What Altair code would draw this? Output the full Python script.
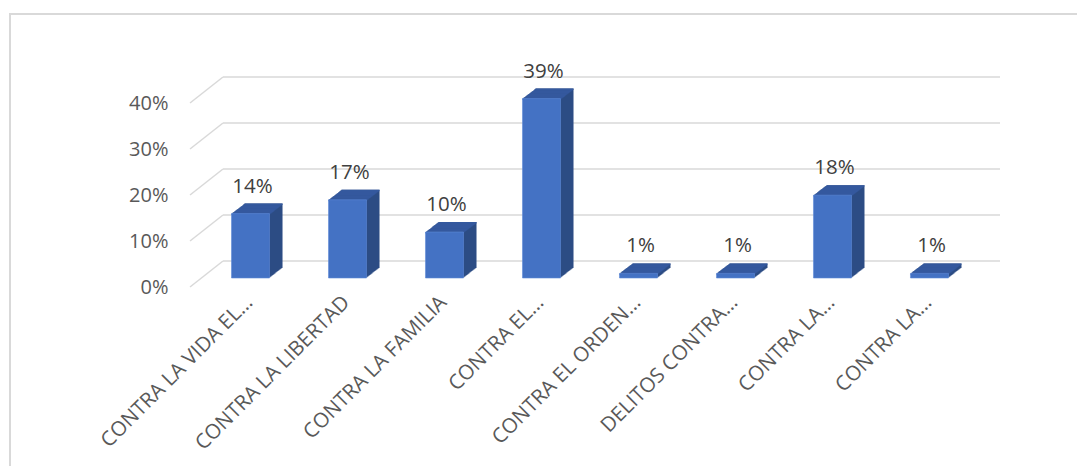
import json
import altair as alt
import pandas as pd

# ---- data ----
labels = ["CONTRA LA VIDA EL…", "CONTRA LA LIBERTAD", "CONTRA LA FAMILIA", "CONTRA EL…",
          "CONTRA EL ORDEN…", "DELITOS CONTRA…", "CONTRA LA…", "CONTRA LA…"]
values = [0.14, 0.17, 0.10, 0.39, 0.01, 0.01, 0.18, 0.01]
ticks = [0.0, 0.1, 0.2, 0.3, 0.4]

df = pd.DataFrame({"idx": list(range(len(labels))), "label": labels, "v": values})
tick_df = pd.DataFrame({"t": ticks})

FRONT = "#4472C4"
SIDE = "#2C4C84"
TOP = "#34599E"
GRID = "#D9D9D9"
FONT = "Open Sans"

W, H = 820, 184
DEPTH_X, DEPTH_Y = 13, 10

yscale = alt.Scale(domain=[0, 0.4], nice=False, zero=True)
yaxis = alt.Axis(values=ticks, format=".0%", title=None, grid=False, domain=False, ticks=False,
                 labelFont=FONT, labelFontSize=20, labelColor="#595959",
                 labelPadding=12, labelOffset=9)

label_expr = json.dumps(labels, ensure_ascii=False) + "[datum.value]"
xenc = alt.X("idx:O",
             scale=alt.Scale(paddingInner=0.608, paddingOuter=0.531),
             axis=alt.Axis(title=None, domain=False, ticks=False, labelAngle=-45,
                           labelAlign="right", labelBaseline="middle",
                           labelPadding=21, labelOffset=-1, labelLimit=400,
                           labelFont=FONT, labelFontSize=20.5, labelColor="#595959",
                           labelExpr=label_expr))


def yenc(field):
    return alt.Y(field, type="quantitative", scale=yscale, axis=yaxis)


layers = []

# outer frame
layers.append(alt.Chart(tick_df).mark_rect(fillOpacity=0, stroke=GRID, strokeWidth=1.5).encode(
    x=alt.value(-170), x2=alt.value(W + 200), y=alt.value(-80), y2=alt.value(H + 300)))

# back-wall gridlines
layers.append(alt.Chart(tick_df).mark_rule(color=GRID, strokeWidth=1.5, yOffset=-17).encode(
    y=yenc("t"), x=alt.value(43), x2=alt.value(W)))

# side-wall diagonal gridlines
layers.append(alt.Chart(tick_df).mark_rule(color=GRID, strokeWidth=1.5, yOffset=9, y2Offset=-17).encode(
    y=yenc("t"), y2=alt.Y2("t"), x=alt.value(10), x2=alt.value(43)))

# side faces (sweep of the bar along the depth direction)
for k in range(1, DEPTH_X + 1):
    off = -k * DEPTH_Y / DEPTH_X
    layers.append(alt.Chart(df).mark_bar(color=SIDE, xOffset=k, yOffset=off, y2Offset=off).encode(
        x=xenc, y=yenc("v")))

# top faces (sweep of the top edge)
for k in range(0, DEPTH_X + 1):
    off = -k * DEPTH_Y / DEPTH_X
    layers.append(alt.Chart(df).transform_calculate(vt="datum.v - 0.003").mark_bar(
        color=TOP, xOffset=k, yOffset=off, y2Offset=off).encode(
        x=xenc, y=yenc("v"), y2=alt.Y2("vt:Q")))

# front faces
layers.append(alt.Chart(df).mark_bar(color=FRONT, stroke="#5E8AD6", strokeWidth=0.6).encode(
    x=xenc, y=yenc("v")))

# value labels
layers.append(alt.Chart(df).mark_text(baseline="bottom", dy=-17, dx=2, font=FONT, fontSize=20.5,
                                      color="#404040").encode(
    x=xenc, y=yenc("v"), text=alt.Text("v:Q", format=".0%")))

chart = alt.layer(*layers).properties(
    width=W, height=H,
    padding={"left": 172, "top": 86, "right": 77, "bottom": 188},
    autosize=alt.AutoSizeParams(type="none"),
    background="white",
).configure_view(stroke=None)

chart.save("out.html", embed_options={"renderer": "svg", "actions": False})
